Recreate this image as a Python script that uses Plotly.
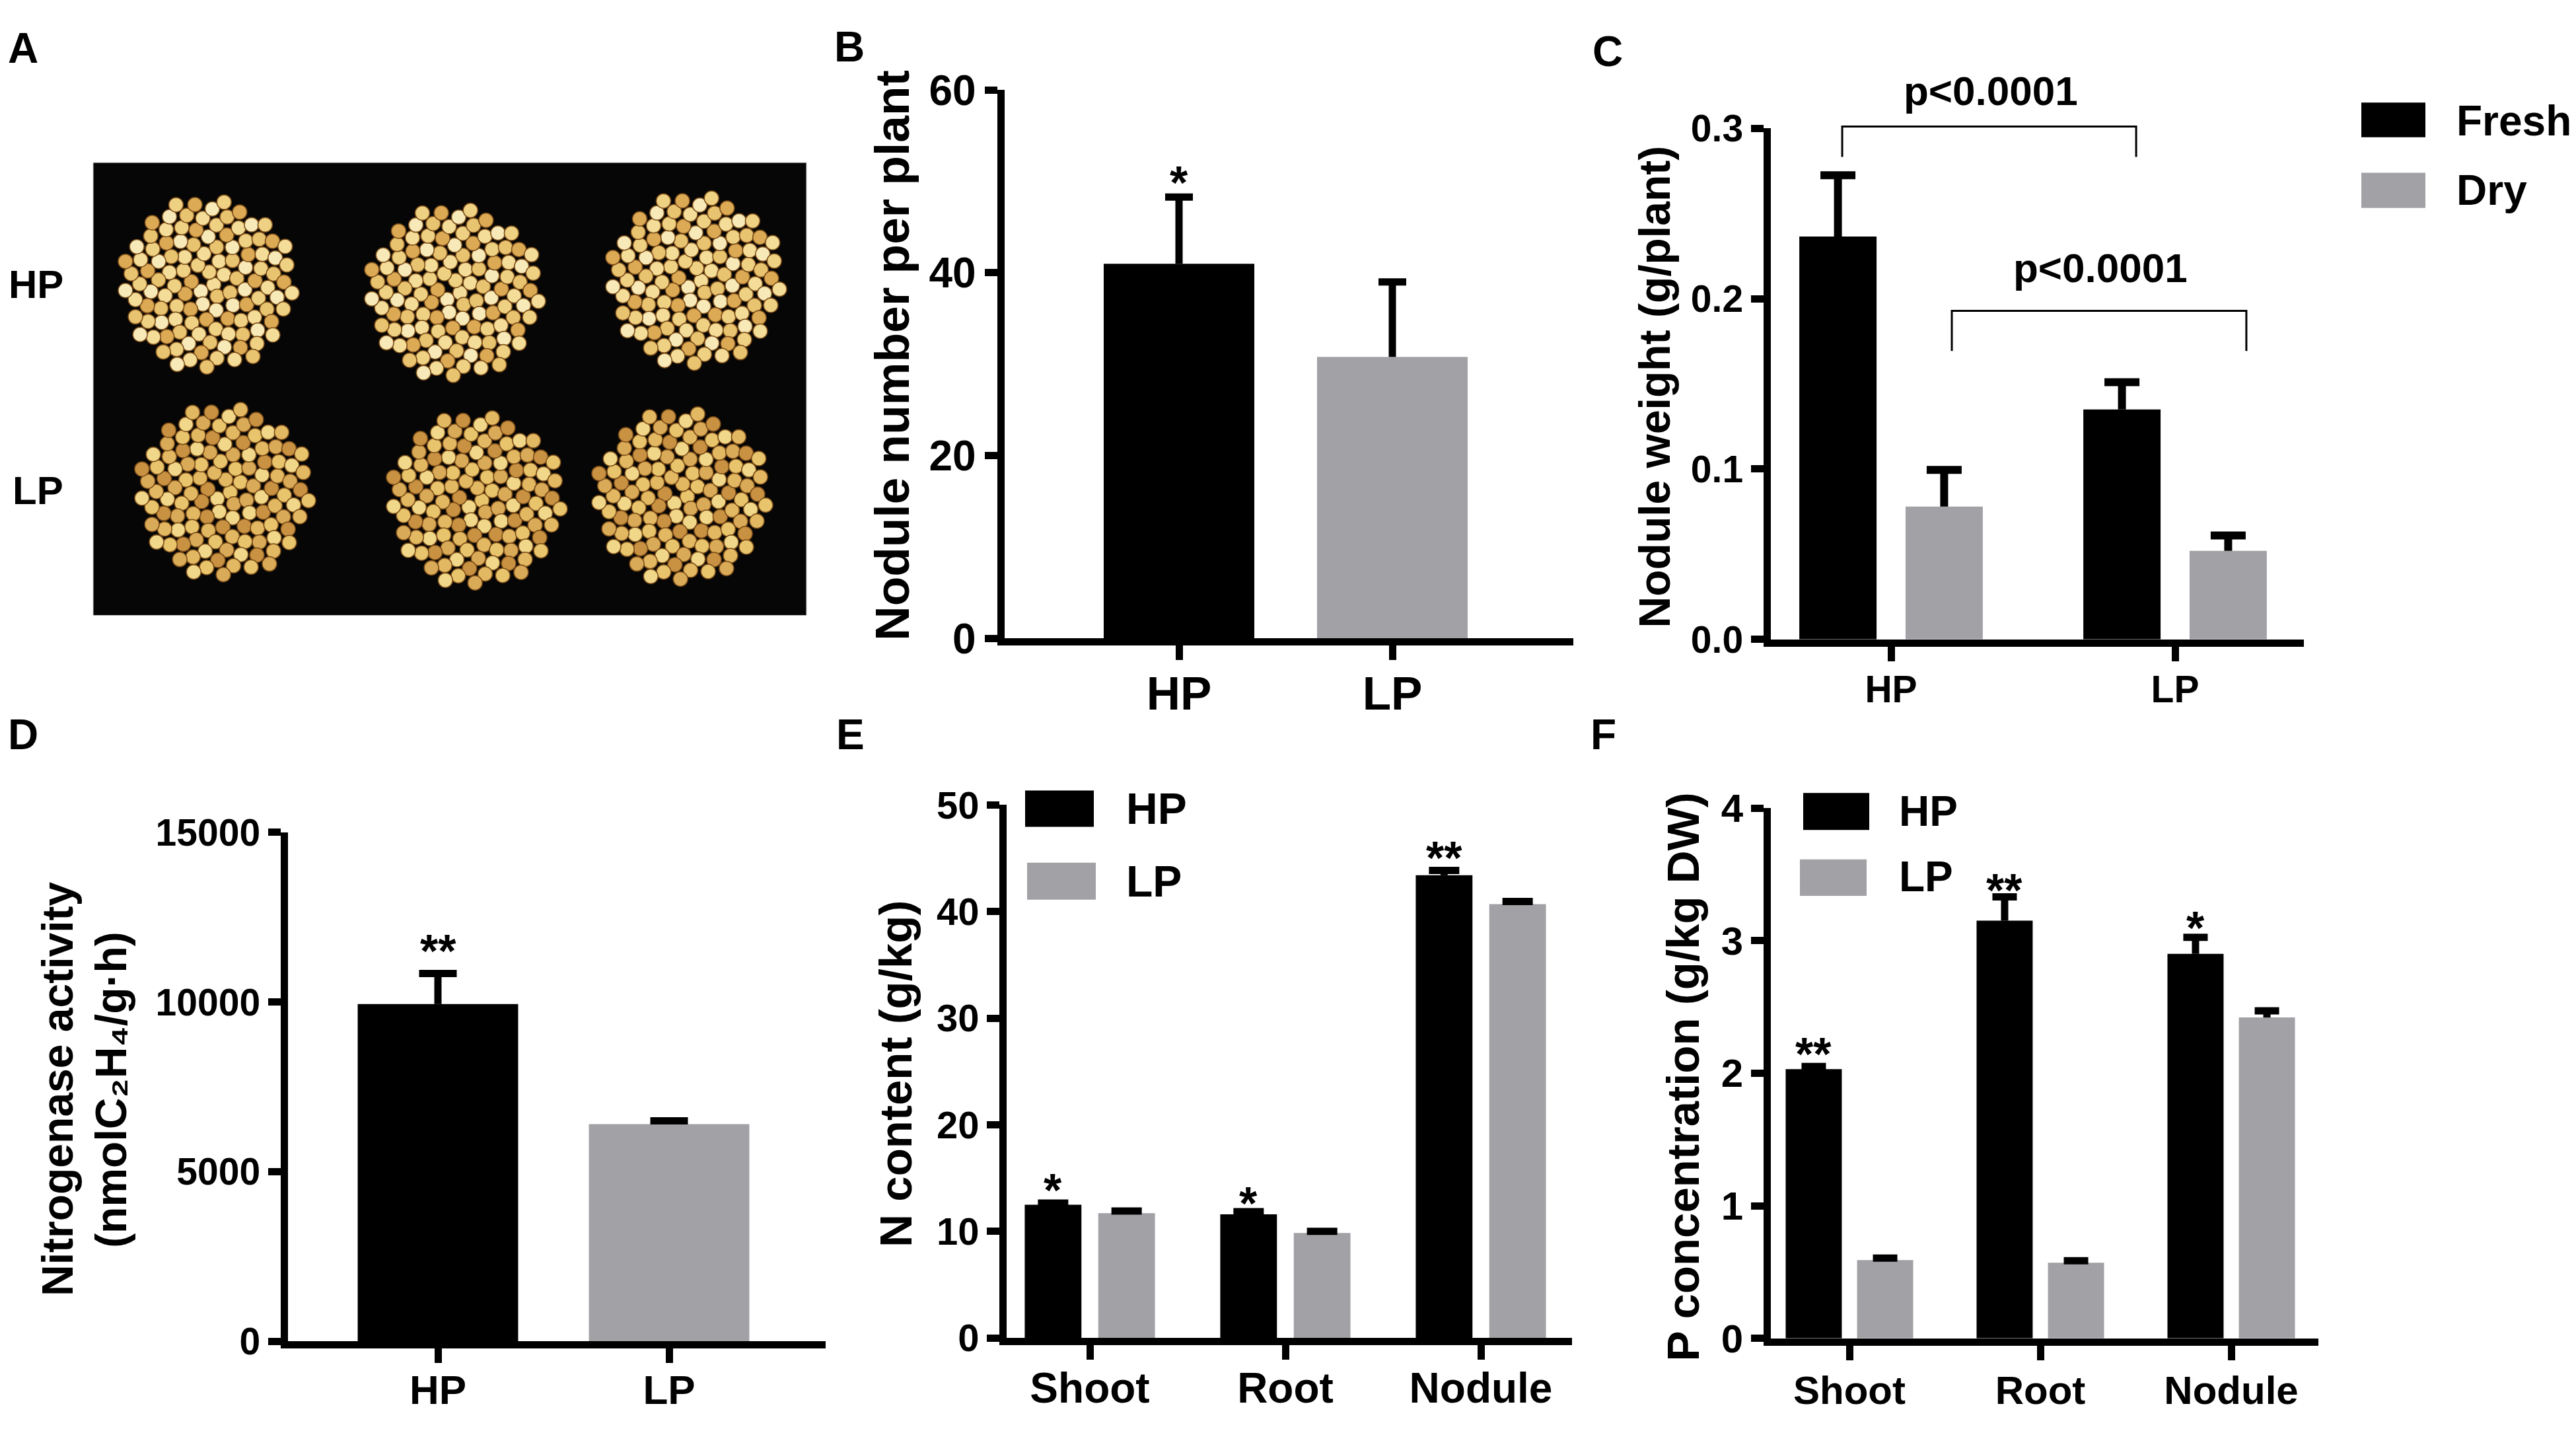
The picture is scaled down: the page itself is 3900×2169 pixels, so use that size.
import numpy as np
import plotly.graph_objects as go

# ---------------- data ----------------
groups = ["HP", "LP"]

nodule_number = [41.0, 30.8]
nodule_number_err = [7.3, 8.2]
nodule_number_sig = ["*", ""]

weight_series = ["Fresh", "Dry"]
fresh_weight = [0.2365, 0.135]
fresh_weight_err = [0.036, 0.016]
dry_weight = [0.078, 0.052]
dry_weight_err = [0.0215, 0.009]
weight_pvalues = ["p<0.0001", "p<0.0001"]

nitrogenase = [9940, 6400]
nitrogenase_err = [900, 100]
nitrogenase_sig = ["**", ""]

tissues = ["Shoot", "Root", "Nodule"]
n_content_hp = [12.5, 11.6, 43.4]
n_content_hp_err = [0.15, 0.25, 0.45]
n_content_lp = [11.7, 9.85, 40.7]
n_content_lp_err = [0.2, 0.15, 0.25]
n_content_sig = ["*", "*", "**"]

p_conc_hp = [2.03, 3.15, 2.90]
p_conc_hp_err = [0.02, 0.18, 0.125]
p_conc_lp = [0.59, 0.57, 2.42]
p_conc_lp_err = [0.015, 0.015, 0.05]
p_conc_sig = ["**", "**", "*"]

b_ticks = [0, 20, 40, 60]
c_ticks = [0.0, 0.1, 0.2, 0.3]
c_ticktext = ["0.0", "0.1", "0.2", "0.3"]
d_ticks = [0, 5000, 10000, 15000]
e_ticks = [0, 10, 20, 30, 40, 50]
f_ticks = [0, 1, 2, 3, 4]

# ---------------- layout constants ----------------
W, H = 3900, 2169
OFF = 8          # the page puts the figure 8 px from the corner
LW = 11
FONT = "'Liberation Sans', Arial, Helvetica, 'DejaVu Sans', sans-serif"
BLACK = "#000000"
GRAY = "#a2a2a6"

# pixel geometry of each panel (in reference pixels): y-axis line x, x-axis line y,
# top tick y, right end of x axis, first category tick x, pixels per category step
geom_ref = {
    "B": dict(x0=1515, y0=967.5, ytop=103.5, xr=2382, t0=1785, u=323, ymax=60),
    "C": dict(x0=2675, y0=969, ytop=163.5, xr=3488, t0=2863, u=430, ymax=0.3),
    "D": dict(x0=430, y0=2068, ytop=1265.7, xr=1250, t0=663, u=350, ymax=15000),
    "E": dict(x0=1518.6, y0=2062.6, ytop=1222.7, xr=2379.6, t0=1650, u=296, ymax=50),
    "F": dict(x0=2675.5, y0=2063.3, ytop=1227.5, xr=3510, t0=2800, u=289, ymax=4),
}
geom = {}
for k, g in geom_ref.items():
    geom[k] = dict(x0=g["x0"] - OFF, y0=g["y0"] - OFF, ytop=g["ytop"] - OFF,
                   xr=g["xr"] - OFF, t0=g["t0"] - OFF, u=g["u"], ymax=g["ymax"])
idx = {"B": "", "C": "2", "D": "3", "E": "4", "F": "5"}

fig = go.Figure()


def g_scale(k):
    g = geom[k]
    bm = g["y0"] - LW / 2
    return bm, (bm - g["ytop"]) / g["ymax"]


def paper_y(k, v):
    bm, s = g_scale(k)
    return 1 - (bm - v * s) / H


def paper_x(k, xv):
    g = geom[k]
    return (g["t0"] + xv * g["u"]) / W


def setup_axes(k, xvals, xtext, yvals, ytext, xfont, yfont, xstand=0, ystand=0):
    g = geom[k]
    n = idx[k]
    bm, s = g_scale(k)
    L = g["x0"] + LW / 2
    R = g["xr"]
    xr = [(L - g["t0"]) / g["u"], (R - g["t0"]) / g["u"]]
    common = dict(showline=True, linewidth=LW, linecolor="black", ticks="outside",
                  tickwidth=LW, tickcolor="black", tickmode="array",
                  showgrid=False, zeroline=False, fixedrange=True)
    fig.update_layout(**{
        "xaxis" + n: dict(domain=[L / W, R / W], range=xr, anchor="y" + n,
                          tickvals=xvals, ticktext=xtext, ticklen=22,
                          ticklabelstandoff=xstand,
                          tickfont=dict(family=FONT, size=xfont, color="black", weight="bold"),
                          **common),
        "yaxis" + n: dict(domain=[1 - bm / H, 1 - g["ytop"] / H], range=[0, g["ymax"]],
                          anchor="x" + n, tickvals=yvals, ticktext=ytext, ticklen=19,
                          ticklabelstandoff=ystand,
                          tickfont=dict(family=FONT, size=yfont, color="black", weight="bold"),
                          **common),
    })


def add_bars(k, xs, vals, width, offset, color):
    n = idx[k]
    fig.add_trace(go.Bar(x=xs, y=vals, width=width, offset=offset,
                         marker=dict(color=color, line=dict(width=0)),
                         xaxis="x" + n, yaxis="y" + n, showlegend=False, hoverinfo="skip"))


def add_err(k, xs, vals, errs, cap_px, lw=LW):
    n = idx[k]
    hw = cap_px / 2 / geom[k]["u"]
    X, Y = [], []
    for x, v, e in zip(xs, vals, errs):
        X += [x, x, None, x - hw, x + hw, None]
        Y += [v, v + e, None, v + e, v + e, None]
    fig.add_trace(go.Scatter(x=X, y=Y, mode="lines", line=dict(color="black", width=lw),
                             xaxis="x" + n, yaxis="y" + n, showlegend=False, hoverinfo="skip"))


annotations = []
shapes = []


def text(x, y, t, size, xanchor="center", yanchor="middle", angle=0, xref="paper", yref="paper", yshift=0):
    annotations.append(dict(x=x, y=y, xref=xref, yref=yref, text=t, showarrow=False,
                            xanchor=xanchor, yanchor=yanchor, textangle=angle, yshift=yshift,
                            font=dict(family=FONT, size=size, color="black", weight="bold")))


def ptext(px, py, t, size, **kw):
    text((px - OFF) / W, 1 - (py - OFF) / H, t, size, **kw)


def stars(k, xs, tops, sigs, shifts, size=70):
    n = idx[k]
    for x, t, sg, sh in zip(xs, tops, sigs, shifts):
        if sg:
            text(x, t, sg, size, xref="x" + n, yref="y" + n, yshift=sh)


def swatch(x0, y0, x1, y1, color):
    shapes.append(dict(type="rect", xref="paper", yref="paper",
                       x0=(x0 - OFF) / W, x1=(x1 - OFF) / W,
                       y0=1 - (y1 - OFF) / H, y1=1 - (y0 - OFF) / H,
                       fillcolor=color, line=dict(width=0)))


# ---------------- panel A : nodule photograph (drawn) ----------------
photo_box = (141, 217, 1221, 926)
shapes.append(dict(type="rect", xref="paper", yref="paper", layer="below",
                   x0=(photo_box[0] - OFF) / W, x1=(photo_box[2] - OFF) / W,
                   y0=1 - (photo_box[3] - OFF) / H, y1=1 - (photo_box[1] - OFF) / H,
                   fillcolor="#060606", line=dict(color="#cfcfcf", width=1)))
cluster_x = [315, 688, 1053, 340, 721, 1032]
cluster_y = [408, 421, 402, 733, 746, 740]
cluster_row = ["HP", "HP", "HP", "LP", "LP", "LP"]
row_colors = {"HP": ["#f4dd98", "#e8c370", "#f8eab8", "#dcaa55", "#efd183"],
              "LP": ["#e8c46c", "#d9aa57", "#f0d789", "#c99243", "#e2b862"]}
nx, ny, nc = [], [], []
n_nod = 118
for cx, cy, row in zip(cluster_x, cluster_y, cluster_row):
    for i in range(n_nod):
        r = 132 * np.sqrt((i + 0.5) / n_nod)
        th = i * 2.39996
        nx.append(cx + r * np.cos(th))
        ny.append(cy + r * np.sin(th) * 1.02)
        nc.append(row_colors[row][(i * 7) % 5])
fig.add_trace(go.Scatter(x=nx, y=ny, mode="markers", xaxis="x6", yaxis="y6",
                         marker=dict(size=22, color=nc, line=dict(color="#7a4c18", width=1.5)),
                         showlegend=False, hoverinfo="skip"))
fig.update_layout(
    xaxis6=dict(domain=[(photo_box[0] - OFF) / W, (photo_box[2] - OFF) / W],
                range=[photo_box[0], photo_box[2]], visible=False, anchor="y6", fixedrange=True),
    yaxis6=dict(domain=[1 - (photo_box[3] - OFF) / H, 1 - (photo_box[1] - OFF) / H],
                range=[photo_box[3], photo_box[1]], visible=False, anchor="x6", fixedrange=True),
)
ptext(11, 408, "HP", 60, xanchor="left")
ptext(17, 730, "LP", 60, xanchor="left")

# ---------------- panel B ----------------
setup_axes("B", [0, 1], groups, b_ticks, [str(v) for v in b_ticks], 71, 64, xstand=-11)
bx = [0, 1]
add_bars("B", [0], [nodule_number[0]], 0.706, -0.353, BLACK)
add_bars("B", [1], [nodule_number[1]], 0.706, -0.353, GRAY)
add_err("B", bx, nodule_number, nodule_number_err, 42)
stars("B", bx, [v + e for v, e in zip(nodule_number, nodule_number_err)], nodule_number_sig, [21, 0])
ptext(1350, 519, "Nodule number per plant", 73, angle=-90)

# ---------------- panel C ----------------
setup_axes("C", [0, 1], groups, c_ticks, c_ticktext, 57, 57, xstand=-6)
c_off = 0.187
c_w = 0.272
add_bars("C", [0, 1], fresh_weight, c_w, -c_off - c_w / 2, BLACK)
add_bars("C", [0, 1], dry_weight, c_w, c_off - c_w / 2, GRAY)
add_err("C", [-c_off, 1 - c_off], fresh_weight, fresh_weight_err, 53, lw=12)
add_err("C", [c_off, 1 + c_off], dry_weight, dry_weight_err, 53, lw=12)
c_brackets = [(-0.172, 0.863), (0.214, 1.251)]
c_bracket_level = [0.3011, 0.1929]
c_bracket_leg = [0.2833, 0.1693]
c_text_level = [0.3219, 0.2181]
for (xa, xb), lv, lg, tl, pv in zip(c_brackets, c_bracket_level, c_bracket_leg, c_text_level, weight_pvalues):
    X0, X1 = paper_x("C", xa), paper_x("C", xb)
    Y0, Y1 = paper_y("C", lg), paper_y("C", lv)
    shapes.append(dict(type="path", xref="paper", yref="paper",
                       path=f"M{X0},{Y0} L{X0},{Y1} L{X1},{Y1} L{X1},{Y0}",
                       line=dict(color="black", width=3)))
    text((X0 + X1) / 2 + 0.0005, paper_y("C", tl), pv, 62)
swatch(3575, 123, 3672, 177.5, BLACK)
swatch(3575, 233, 3672, 288, GRAY)
ptext(3717, 152, weight_series[0], 64, xanchor="left")
ptext(3717, 260, weight_series[1], 64, xanchor="left")
ptext(2505, 568, "Nodule weight (g/plant)", 66, angle=-90)

# ---------------- panel D ----------------
setup_axes("D", [0, 1], groups, d_ticks, [str(v) for v in d_ticks], 62, 57, xstand=-13)
add_bars("D", [0], [nitrogenase[0]], 0.694, -0.347, BLACK)
add_bars("D", [1], [nitrogenase[1]], 0.694, -0.347, GRAY)
add_err("D", [0, 1], nitrogenase, nitrogenase_err, 57)
stars("D", [0, 1], [v + e for v, e in zip(nitrogenase, nitrogenase_err)], nitrogenase_sig, [34, 0])
ptext(87, 1667, "Nitrogenase activity", 66, angle=-90)
ptext(168, 1669, "(nmolC\u2082H\u2084/g·h)", 66, angle=-90)

# ---------------- panel E ----------------
setup_axes("E", [0, 1, 2], tissues, e_ticks, [str(v) for v in e_ticks], 64, 58, xstand=-12)
e_off, e_w = 0.188, 0.29
ex = [0, 1, 2]
add_bars("E", ex, n_content_hp, e_w, -e_off - e_w / 2, BLACK)
add_bars("E", ex, n_content_lp, e_w, e_off - e_w / 2, GRAY)
add_err("E", [x - e_off for x in ex], n_content_hp, n_content_hp_err, 46)
add_err("E", [x + e_off for x in ex], n_content_lp, n_content_lp_err, 46)
stars("E", [x - e_off for x in ex], [v + e for v, e in zip(n_content_hp, n_content_hp_err)],
      n_content_sig, [19, 12, 19])
swatch(1552, 1200, 1656, 1257, BLACK)
swatch(1555, 1313, 1659, 1371, GRAY)
ptext(1703, 1228, groups[0], 66, xanchor="left")
ptext(1703, 1342, groups[1], 66, xanchor="left")
ptext(1357, 1644, "N content (g/kg)", 69, angle=-90)

# ---------------- panel F ----------------
setup_axes("F", [0, 1, 2], tissues, f_ticks, [str(v) for v in f_ticks], 60, 60, xstand=-6)
f_off, f_w = 0.187, 0.294
fx = [0, 1, 2]
add_bars("F", fx, p_conc_hp, f_w, -f_off - f_w / 2, BLACK)
add_bars("F", fx, p_conc_lp, f_w, f_off - f_w / 2, GRAY)
add_err("F", [x - f_off for x in fx], p_conc_hp, p_conc_hp_err, 37)
add_err("F", [x + f_off for x in fx], p_conc_lp, p_conc_lp_err, 37)
stars("F", [x - f_off for x in fx], [v + e for v, e in zip(p_conc_hp, p_conc_hp_err)],
      p_conc_sig, [18, 9, 14])
swatch(2730, 1204, 2830, 1262, BLACK)
swatch(2725, 1308, 2826, 1365, GRAY)
ptext(2873, 1233, groups[0], 64, xanchor="left")
ptext(2873, 1335, groups[1], 64, xanchor="left")
ptext(2549, 1649, "P concentration (g/kg DW)", 69, angle=-90)

# ---------------- panel letters ----------------
ptext(10, 38, "A", 64, xanchor="left")
ptext(10, 1113, "D", 64, xanchor="left")
for lab, (lx, ly) in zip("BCEF", [(1286, 36), (2434, 43), (1287, 1113), (2427, 1113)]):
    ptext(lx, ly, lab, 64)

fig.update_layout(
    width=W, height=H, margin=dict(l=0, r=0, t=0, b=0),
    paper_bgcolor="white", plot_bgcolor="rgba(0,0,0,0)",
    barmode="overlay", showlegend=False,
    annotations=annotations, shapes=shapes,
    font=dict(family=FONT, color="black"),
)

fig.write_html("out.html")
